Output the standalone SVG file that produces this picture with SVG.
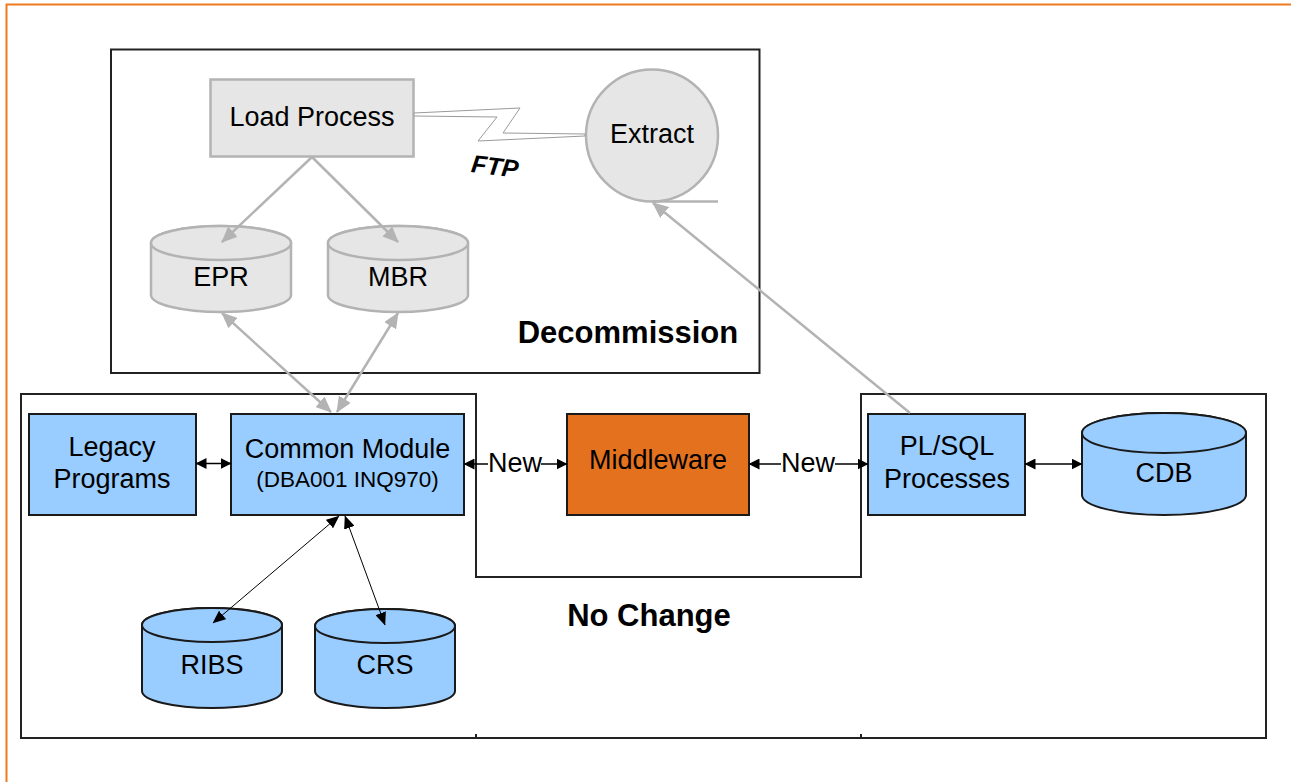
<svg xmlns="http://www.w3.org/2000/svg" width="1291" height="782" viewBox="0 0 1291 782">
<defs>
<style>
text{font-family:"Liberation Sans",Arial,sans-serif;fill:#000;text-anchor:middle}
.t{font-size:27px}
.s{font-size:22.5px}
.b{font-size:31px;font-weight:bold}
.gbox{fill:#e6e6e6;stroke:#b3b3b3;stroke-width:2.5}
.bbox{fill:#99ccff;stroke:#1a1a1a;stroke-width:2}
.gl{stroke:#b3b3b3;stroke-width:2.5;fill:none}
.bl{stroke:#000;stroke-width:1.5;fill:none}
.tl{stroke:#000;stroke-width:1;fill:none}
.frame{fill:none;stroke:#222;stroke-width:2}
</style>
<marker id="ga" viewBox="0 0 16 14" refX="15" refY="7" markerWidth="16" markerHeight="14" markerUnits="userSpaceOnUse" orient="auto-start-reverse"><path d="M0,0 L16,7 L0,14 Z" fill="#b3b3b3"/></marker>
<marker id="ba" viewBox="0 0 11 11" refX="10.5" refY="5.5" markerWidth="11" markerHeight="11" markerUnits="userSpaceOnUse" orient="auto-start-reverse"><path d="M0,0 L11,5.5 L0,11 Z" fill="#000"/></marker>
<marker id="ta" viewBox="0 0 13 11" refX="12.5" refY="5.5" markerWidth="13" markerHeight="11" markerUnits="userSpaceOnUse" orient="auto-start-reverse"><path d="M0,0 L13,5.5 L0,11 Z" fill="#000"/></marker>
</defs>
<rect width="1291" height="782" fill="#fff"/>
<rect x="6.5" y="4.5" width="1300" height="800" fill="none" stroke="#f07a1e" stroke-width="2"/>

<g id="decommission-area">
<rect x="111" y="49.5" width="648.5" height="323.5" class="frame"/>
<text x="628" y="343" class="b">Decommission</text>
</g>
<g id="nochange-area">
<path d="M21,394 H476 V577 H861 V394 H1266 V738 H21 Z" class="frame"/>
<path d="M476,734 V738 M861,734 V738" class="frame"/>
<text x="649" y="626" class="b">No Change</text>
</g>

<g id="load-process">
<rect x="210.5" y="79.5" width="203" height="77" class="gbox"/>
<text x="312" y="126" class="t">Load Process</text>
</g>
<g id="extract">
<circle cx="652" cy="135.5" r="66" class="gbox"/>
<line x1="652" y1="201.5" x2="718" y2="201.5" stroke="#b3b3b3" stroke-width="2.5"/>
<text x="652" y="143" class="t">Extract</text>
</g>
<g id="epr">
<path d="M151,243 V295 A70,17 0 0 0 291,295 V243 A70,17 0 0 0 151,243 Z" class="gbox" stroke-width="2"/>
<ellipse cx="221" cy="243" rx="70" ry="17" class="gbox" stroke-width="2"/>
<text x="221" y="286" class="t">EPR</text>
</g>
<g id="mbr">
<path d="M328,243 V295 A70,17 0 0 0 468,295 V243 A70,17 0 0 0 328,243 Z" class="gbox" stroke-width="2"/>
<ellipse cx="398" cy="243" rx="70" ry="17" class="gbox" stroke-width="2"/>
<text x="398" y="286" class="t">MBR</text>
</g>

<g id="legacy-programs">
<rect x="29" y="414" width="167" height="101" class="bbox"/>
<text x="112" y="456" class="t">Legacy</text>
<text x="112" y="488" class="t">Programs</text>
</g>
<g id="common-module">
<rect x="231" y="414" width="233" height="101" class="bbox"/>
<text x="347.5" y="458" class="t">Common Module</text>
<text x="347.5" y="487" class="s">(DBA001 INQ970)</text>
</g>
<g id="middleware">
<rect x="567" y="414" width="182" height="101" fill="#e3711e" stroke="#1a1a1a" stroke-width="2"/>
<text x="658" y="469" class="t">Middleware</text>
</g>
<g id="plsql-processes">
<rect x="868" y="414" width="157" height="101" class="bbox"/>
<text x="947" y="455" class="t">PL/SQL</text>
<text x="947" y="488" class="t">Processes</text>
</g>
<g id="cdb">
<path d="M1082,433 V495 A82,20 0 0 0 1246,495 V433 A82,20 0 0 0 1082,433 Z" class="bbox"/>
<ellipse cx="1164" cy="433" rx="82" ry="20" class="bbox"/>
<text x="1164" y="482" class="t">CDB</text>
</g>
<g id="ribs">
<path d="M142,625 V691 A70,17 0 0 0 282,691 V625 A70,17 0 0 0 142,625 Z" class="bbox"/>
<ellipse cx="212" cy="625" rx="70" ry="17" class="bbox"/>
<text x="212" y="674" class="t">RIBS</text>
</g>
<g id="crs">
<path d="M315,626 V691 A70,17 0 0 0 455,691 V626 A70,17 0 0 0 315,626 Z" class="bbox"/>
<ellipse cx="385" cy="626" rx="70" ry="17" class="bbox"/>
<text x="385" y="674" class="t">CRS</text>
</g>

<g id="connectors">
<polygon points="414,113 520,108 503,133 585,134 585,136 478,141 497,117 414,116" fill="#fff" stroke="#9a9a9a" stroke-width="1"/>
<text x="495" y="175" transform="rotate(7 495 166)" style="font-size:25px;font-weight:bold;font-style:italic">FTP</text>
<line x1="312" y1="157" x2="222" y2="242" class="gl" marker-end="url(#ga)"/>
<line x1="312" y1="157" x2="398" y2="242" class="gl" marker-end="url(#ga)"/>
<line x1="331" y1="412" x2="222" y2="313" class="gl" marker-start="url(#ga)" marker-end="url(#ga)"/>
<line x1="337" y1="412" x2="398" y2="313" class="gl" marker-start="url(#ga)" marker-end="url(#ga)"/>
<line x1="910" y1="413" x2="653" y2="203" class="gl" marker-end="url(#ga)"/>
<line x1="196" y1="463.5" x2="231" y2="463.5" class="bl" marker-start="url(#ba)" marker-end="url(#ba)"/>
<line x1="464" y1="464" x2="488" y2="464" class="bl" marker-start="url(#ba)"/>
<text x="515" y="472" class="t">New</text>
<line x1="541" y1="464" x2="567" y2="464" class="bl" marker-end="url(#ba)"/>
<line x1="749" y1="464" x2="781" y2="464" class="bl" marker-start="url(#ba)"/>
<text x="808" y="472" class="t">New</text>
<line x1="835" y1="464" x2="868" y2="464" class="bl" marker-end="url(#ba)"/>
<line x1="1025" y1="464" x2="1082" y2="464" class="bl" marker-start="url(#ba)" marker-end="url(#ba)"/>
<line x1="339" y1="516" x2="213" y2="623" class="tl" marker-start="url(#ta)" marker-end="url(#ta)"/>
<line x1="345" y1="516" x2="385" y2="625" class="tl" marker-start="url(#ta)" marker-end="url(#ta)"/>
</g>
</svg>
